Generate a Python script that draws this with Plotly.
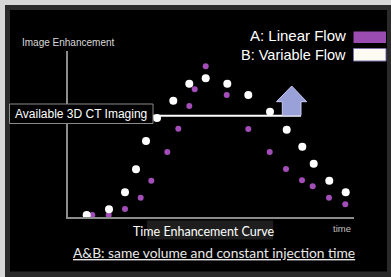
import plotly.graph_objects as go

W, H = 391, 277

# Data (time units along the axis, enhancement units up the axis)
b_time = [18.7, 41, 57, 68, 78, 89, 105.3, 121.3, 137.7, 159.3, 180.3, 202, 218.7, 234.3, 245.7, 261.3, 277.7]
b_enh = [2, 7.7, 24.7, 47.7, 76, 99, 116.3, 133.3, 138.7, 133.3, 122, 105.3, 87.3, 70.3, 53.3, 36.3, 24.7]
a_time = [24.3, 40.7, 57, 72.7, 83.3, 99.3, 110.3, 121.3, 126.7, 137.7, 158.7, 180.3, 201.7, 218, 234, 244.7, 261, 277.3]
a_enh = [2, 2, 8, 19.3, 36.3, 65, 88.3, 111, 127.7, 150.7, 122, 88, 65, 48, 36.7, 30.7, 19.3, 12.7]

series_names = ["A: Linear Flow", "B: Variable Flow"]
PURPLE = "#a24db8"
WHITE = "#ffffff"


def px(x):
    return x / W


def py(y):
    return 1 - y / H


fig = go.Figure()
fig.add_trace(go.Scatter(x=a_time, y=a_enh, mode="markers", name=series_names[0],
                         marker=dict(color=PURPLE, size=6, line=dict(width=0)),
                         hoverinfo="skip", showlegend=False))
fig.add_trace(go.Scatter(x=b_time, y=b_enh, mode="markers", name=series_names[1],
                         marker=dict(color=WHITE, size=8, line=dict(width=0)),
                         hoverinfo="skip", showlegend=False))

shapes = []
# frame
shapes.append(dict(type="rect", xref="paper", yref="paper", x0=px(5), x1=px(391), y0=py(277), y1=py(5),
                   fillcolor="#2a2a2a", line=dict(width=0), layer="below"))
shapes.append(dict(type="rect", xref="paper", yref="paper", x0=px(10), x1=px(387), y0=py(271.5), y1=py(10),
                   fillcolor="#000000", line=dict(width=0), layer="below"))
# gray box behind bottom caption
shapes.append(dict(type="rect", xref="paper", yref="paper", x0=px(147), x1=px(273), y0=py(239.5), y1=py(220.5),
                   fillcolor="#1e1e1e", line=dict(width=0), layer="below"))
# horizontal threshold line
shapes.append(dict(type="line", xref="paper", yref="paper", x0=px(153), x1=px(301), y0=py(115.8), y1=py(115.8),
                   line=dict(color="#ffffff", width=2), layer="above"))
# box for "Available 3D CT Imaging"
shapes.append(dict(type="rect", xref="paper", yref="paper", x0=px(9.5), x1=px(153), y0=py(123.5), y1=py(104),
                   fillcolor="#000000", line=dict(color="#8a8a8a", width=1), layer="above"))
# arrow
pts = [(291.7, 86), (306.7, 101.7), (301, 101.7), (301, 115.5), (282.3, 115.5), (282.3, 101.7), (276.5, 101.7)]
path = "M " + " L ".join(f"{px(x):.5f},{py(y):.5f}" for x, y in pts) + " Z"
shapes.append(dict(type="path", xref="paper", yref="paper", path=path,
                   fillcolor="#9aa0d8", line=dict(color="#c8cbef", width=1), layer="above"))
# legend swatches
shapes.append(dict(type="rect", xref="paper", yref="paper", x0=px(353.5), x1=px(386), y0=py(43), y1=py(31.5),
                   fillcolor="#9b4cb0", line=dict(width=0), layer="above"))
shapes.append(dict(type="rect", xref="paper", yref="paper", x0=px(353.5), x1=px(386), y0=py(61), y1=py(48.5),
                   fillcolor="#fbfbf3", line=dict(color="#8070a8", width=1), layer="above"))

ARIAL = "Liberation Sans, Arial, sans-serif"
CAL = "Lato, Calibri, sans-serif"

annotations = [
    dict(text="Image Enhancement", x=px(21), y=py(43), xanchor="left", yanchor="middle",
         font=dict(family=ARIAL, size=10, color="#d8d8d8")),
    dict(text="Available 3D CT Imaging", x=px(81), y=py(114), xanchor="center", yanchor="middle",
         font=dict(family=ARIAL, size=12, color="#ffffff")),
    dict(text=series_names[0], x=px(346.5), y=py(35.5), xanchor="right", yanchor="middle",
         font=dict(family=ARIAL, size=15, color="#ffffff")),
    dict(text=series_names[1], x=px(346.5), y=py(55), xanchor="right", yanchor="middle",
         font=dict(family=ARIAL, size=14.5, color="#ffffff")),
    dict(text="time", x=px(342), y=py(228), xanchor="center", yanchor="middle",
         font=dict(family=ARIAL, size=9.5, color="#c0c0c0")),
    dict(text="Time Enhancement Curve", x=px(204), y=py(231.5), xanchor="center", yanchor="middle",
         font=dict(family=CAL, size=12.5, color="#ffffff")),
    dict(text="<u>A&B: same volume and constant injection time</u>", x=px(214), y=py(252.5),
         xanchor="center", yanchor="middle",
         font=dict(family=CAL, size=13.8, color="#e8e8e8")),
]
for a in annotations:
    a.update(xref="paper", yref="paper", showarrow=False, borderpad=0)

fig.update_layout(
    width=W, height=H,
    margin=dict(l=0, r=0, t=0, b=0),
    paper_bgcolor="#d6d6d6",
    plot_bgcolor="rgba(0,0,0,0)",
    shapes=shapes,
    annotations=annotations,
    xaxis=dict(domain=[px(68), px(354)], range=[0, 286], showline=True, linecolor="#8c8c8c", linewidth=1.5,
               showgrid=False, zeroline=False, showticklabels=False, ticks="", fixedrange=True),
    yaxis=dict(domain=[py(217), py(51)], range=[0, 166], showline=True, linecolor="#8c8c8c", linewidth=1.5,
               showgrid=False, zeroline=False, showticklabels=False, ticks="", fixedrange=True),
    showlegend=False,
)

fig.write_html("out.html", config={"displayModeBar": False},
               post_script="document.body.style.margin='0';document.body.style.overflow='hidden';")
